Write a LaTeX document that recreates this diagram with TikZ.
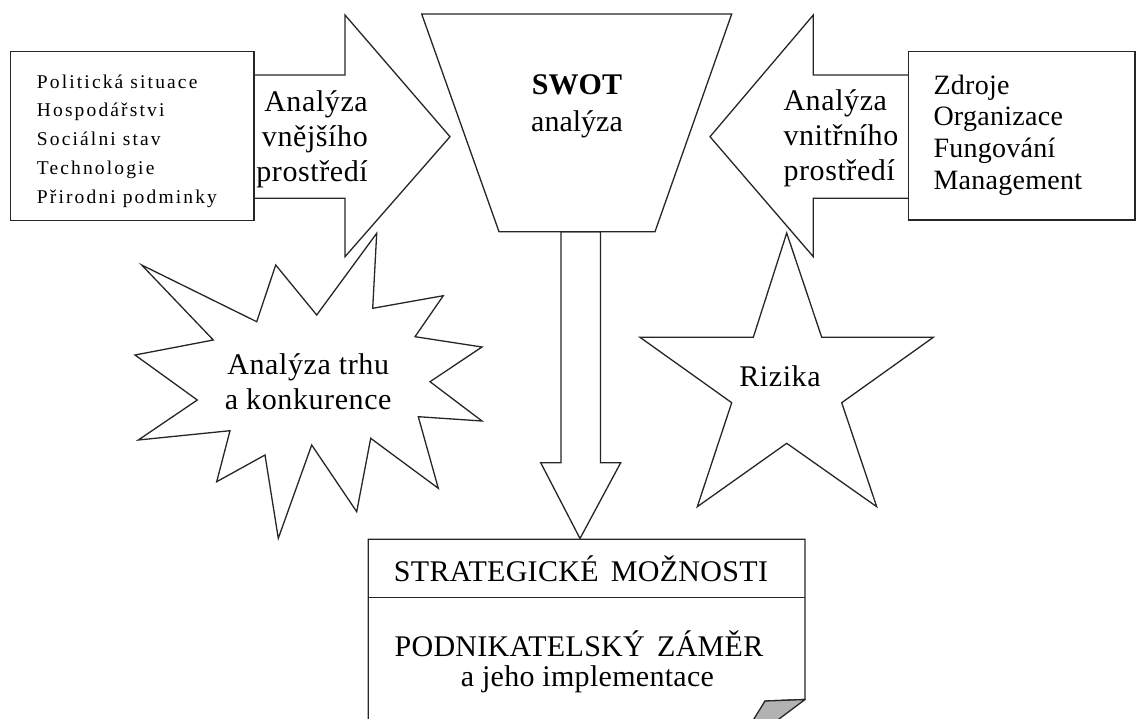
\documentclass[tikz,border=0pt]{standalone}
\usepackage{fontspec}
\setmainfont{Liberation Serif}
\begin{document}
\begin{tikzpicture}[x=1pt,y=-1pt,
  outline/.style={draw=black!85,line width=1.3pt,fill=white,line join=miter},
  frame/.style={outline,inner sep=0pt},
  bigtxt/.style={font=\fontsize{30}{35}\selectfont\addfontfeatures{LetterSpace=2},inner sep=0pt,text=black},
  doctxt/.style={font=\fontsize{30}{35}\selectfont\addfontfeatures{LetterSpace=1},inner sep=0pt,text=black},
  listtxt/.style={font=\fontsize{19.5}{28.8}\selectfont\addfontfeatures{LetterSpace=11},inner sep=0pt,align=left,text=black},
  rlisttxt/.style={font=\fontsize{28}{31.7}\selectfont\addfontfeatures{LetterSpace=1},inner sep=0pt,align=left,text=black}]
\useasboundingbox (0,0) rectangle (1137,718);
\clip (0,0) rectangle (1137,718);

% block arrow: external environment -> SWOT
\draw[outline] (250,75) -- (345,75) -- (345,15) -- (450,136.7) -- (345,256.7)
  -- (345,198.3) -- (250,198.3) -- cycle;
% block arrow: internal environment -> SWOT
\draw[outline] (912,75) -- (813.3,75) -- (813.3,15) -- (710,136.7) -- (813.3,256.7)
  -- (813.3,198.3) -- (912,198.3) -- cycle;

% factor boxes
\node[frame,minimum width=243.3pt,minimum height=169pt] (ext) at (132.4,136.2) {};
\node[frame,minimum width=226.7pt,minimum height=168.3pt] (int) at (1021.7,135.9) {};

\node[listtxt,anchor=west] (extlist) at (36.7,141)
  {Politická situace\\Hospodářstvi\\Sociálni stav\\Technologie\\Přirodni podminky};
\node[rlisttxt,anchor=west] (intlist) at (933.3,135)
  {Zdroje\\Organizace\\Fungování\\Management};

\node[bigtxt,align=right,anchor=east] (extlbl) at (368,139)
  {Analýza\\vnějšího\\prostředí};
\node[bigtxt,align=left,anchor=west] (intlbl) at (783.3,138)
  {Analýza\\vnitřního\\prostředí};

% result: strategic options document
\draw[outline] (368.3,730) -- (368.3,539.3) -- (805,539.3) -- (805,699.5)
  -- (765,701) -- (750,730) -- cycle;
\draw[draw=black!85,line width=1.3pt,fill=black!30,line join=round]
  (805,699.5) -- (765,701) -- (752,722) -- (775,722) -- cycle;
\draw[draw=black!85,line width=1.3pt] (368.3,597.7) -- (805,597.7);

% arrow from SWOT down to the document
\draw[outline] (561,231.7) -- (600.5,231.7) -- (600.5,462.7) -- (620.7,462.7)
  -- (580,538.5) -- (540.7,462.7) -- (561,462.7) -- cycle;

% SWOT funnel
\draw[outline] (421.7,14) -- (731.7,14) -- (655,231.7) -- (499,231.7) -- cycle;
\node[inner sep=0pt,align=center,font=\fontsize{30}{37}\selectfont] (swot) at (577,106)
  {\textbf{SWOT}\\analýza};

% market and competition burst
\draw[outline] (141.7,265) -- (256.7,321.7) -- (275.7,265) -- (316.7,315)
  -- (376.7,233.3) -- (372.7,308.3) -- (443.3,295.7) -- (415,336.7)
  -- (482,347) -- (430,381.7) -- (482,421) -- (418.3,416.7)
  -- (438.3,488.3) -- (370.7,438.3) -- (356.7,511.7) -- (311.7,445)
  -- (278.3,538.3) -- (265,455) -- (216.7,481.7) -- (230,430.7)
  -- (138.3,440) -- (197.3,400) -- (135,355) -- (213.3,340) -- cycle;
\node[bigtxt,align=center] (market) at (308.2,382)
  {Analýza trhu\\a konkurence};

% risks star
\draw[outline] (786.7,233) -- (821.7,337.3) -- (933.3,337.3) -- (841.7,402.7)
  -- (876.7,506.7) -- (786.7,443.3) -- (697.3,506.7) -- (731.7,402.7)
  -- (640,337.3) -- (753.3,337.3) -- cycle;
\node[bigtxt] (risks) at (780,376) {Rizika};

% document texts
\node[doctxt] (options) at (581,569) {STRATEGICKÉ\hspace{0.15em} MOŽNOSTI};
\node[doctxt] (plan) at (579,644) {PODNIKATELSKÝ\hspace{0.15em} ZÁMĚR};
\node[doctxt] (impl) at (587.5,679) {a jeho implementace};
\end{tikzpicture}
\end{document}
